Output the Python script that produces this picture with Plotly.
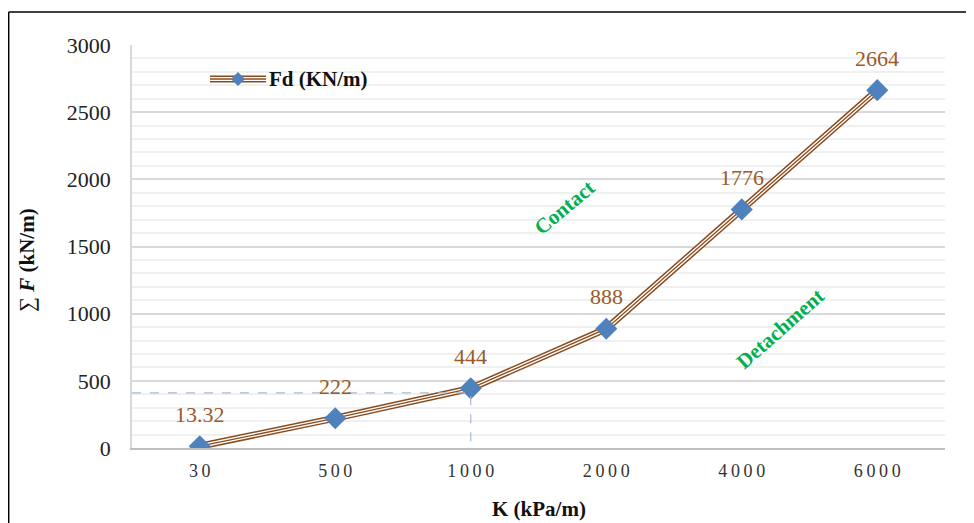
import plotly.graph_objects as go

# ---- data ----
k_labels = ["30", "500", "1000", "2000", "4000", "6000"]
fd_values = [13.32, 222, 444, 888, 1776, 2664]
fd_text = ["13.32", "222", "444", "888", "1776", "2664"]
ref_level = 410          # dashed reference level
ref_category = 2         # index of "1000"
y_ticks = [0, 500, 1000, 1500, 2000, 2500, 3000]

x_idx = list(range(len(k_labels)))
spaced = ["\u2009".join(list(s)) for s in k_labels]

BROWN = "#8A4B1C"
LABEL = "#9A5A2A"
BLUE = "#4F81BD"
GREEN = "#00B050"
FONT = "Liberation Serif"

# page offset (browser body margin) and plot area in screen pixels
O = 8
L, R, T, B = 132, 945, 45, 448
W, H = 974 - O, 523 - O
def px(xp): return (xp - L) / (R - L)
def py(yp): return (B - yp) / (B - T)

fig = go.Figure()

# compound line: brown / white / brown
fig.add_trace(go.Scatter(x=x_idx, y=fd_values, mode="lines",
                         line=dict(color=BROWN, width=7), showlegend=False, hoverinfo="skip"))
fig.add_trace(go.Scatter(x=x_idx, y=fd_values, mode="lines",
                         line=dict(color="white", width=4), showlegend=False, hoverinfo="skip"))
fig.add_trace(go.Scatter(x=x_idx, y=fd_values, mode="lines",
                         line=dict(color=BROWN, width=1.3), showlegend=False, hoverinfo="skip"))
fig.add_trace(go.Scatter(x=x_idx, y=fd_values, mode="markers", name="Fd (KN/m)",
                         marker=dict(symbol="diamond", size=17, color=BLUE), showlegend=False))

# dashed reference lines
fig.add_trace(go.Scatter(x=[-0.5, ref_category, ref_category], y=[ref_level, ref_level, 0],
                         mode="lines", line=dict(color="#A9BACF", width=1.2, dash="dash"),
                         showlegend=False, hoverinfo="skip"))

annotations = []
for xi, v, t in zip(x_idx, fd_values, fd_text):
    annotations.append(dict(x=xi, y=v, text=t, showarrow=False, yshift=32,
                            xanchor="center", yanchor="middle",
                            font=dict(family=FONT, size=22, color=LABEL)))

C = dict(xref="paper", yref="paper", showarrow=False, xanchor="center", yanchor="middle")
annotations += [
    dict(x=px(564), y=py(208), text="<b>Contact</b>", textangle=-40,
         font=dict(family=FONT, size=21, color=GREEN), **C),
    dict(x=px(780), y=py(329), text="<b>Detachment</b>", textangle=-41.5,
         font=dict(family=FONT, size=21, color=GREEN), **C),
    dict(x=px(318), y=py(79), text="<b>Fd (KN/m)</b>",
         font=dict(family=FONT, size=21, color="#111"), **C),
    dict(x=px(27), y=py(260), text="∑ <b><i>F</i></b> <b>(kN/m)</b>", textangle=-90,
         font=dict(family=FONT, size=21, color="#111"), **C),
    dict(x=0.5, y=py(509), text="<b>K (kPa/m)</b>",
         font=dict(family=FONT, size=21, color="#111"), **C),
]

shapes = [
    # outer border (left and top edges visible)
    dict(type="line", xref="paper", yref="paper", x0=px(8.7), x1=px(8.7), y0=py(523), y1=py(12),
         line=dict(color="black", width=1.5)),
    dict(type="line", xref="paper", yref="paper", x0=px(8.7), x1=px(974), y0=py(12), y1=py(12),
         line=dict(color="black", width=1.5)),
    # legend sample
    dict(type="line", xref="paper", yref="paper", x0=px(210), x1=px(266), y0=py(79), y1=py(79),
         line=dict(color=BROWN, width=7)),
    dict(type="line", xref="paper", yref="paper", x0=px(210), x1=px(266), y0=py(79), y1=py(79),
         line=dict(color="white", width=4)),
    dict(type="line", xref="paper", yref="paper", x0=px(210), x1=px(266), y0=py(79), y1=py(79),
         line=dict(color=BROWN, width=1.3)),
    dict(type="path", xref="paper", yref="paper",
         path=f"M {px(238)} {py(72)} L {px(245)} {py(79)} L {px(238)} {py(86)} L {px(231)} {py(79)} Z",
         fillcolor=BLUE, line=dict(width=0)),
]

fig.update_layout(
    width=W, height=H,
    margin=dict(l=L - O, r=W - (R - O), t=T - O, b=H - (B - O), pad=0),
    paper_bgcolor="white", plot_bgcolor="white",
    annotations=annotations, shapes=shapes,
    showlegend=False,
    xaxis=dict(range=[-0.5, 5.5], tickvals=x_idx, ticktext=spaced, showgrid=False,
               showline=True, linecolor="#BFBFBF", linewidth=1.5, ticks="", zeroline=False,
               automargin=False,
               tickfont=dict(family=FONT, size=18, color="#333"), ticklabelstandoff=6),
    yaxis=dict(range=[0, 3000], tickvals=y_ticks, showgrid=True, gridcolor="#D9D9D9", gridwidth=1.5,
               minor=dict(dtick=100, showgrid=True, gridcolor="#F0F0F0", gridwidth=1.5),
               showline=True, linecolor="#D9D9D9", linewidth=1.5, zeroline=False, ticks="",
               automargin=False,
               tickfont=dict(family=FONT, size=22, color="#222"), ticklabelstandoff=15),
)

fig.write_html("out.html")
